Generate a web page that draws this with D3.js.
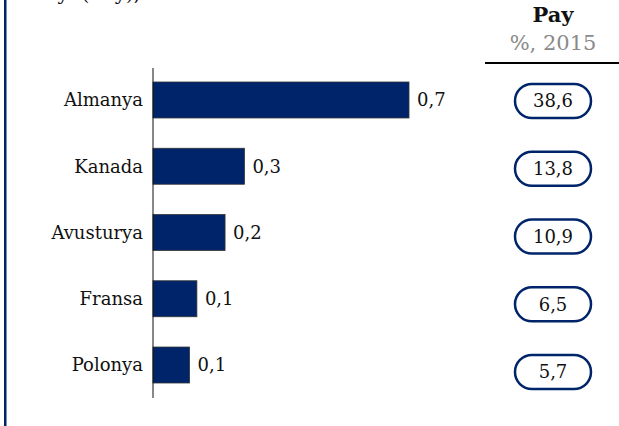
<!DOCTYPE html>
<html><head><meta charset="utf-8">
<script src="https://cdn.jsdelivr.net/npm/d3@7"></script>
<style>body{margin:0;background:#fff}svg{display:block}</style>
</head><body>
<script>
const categories = ["Almanya","Kanada","Avusturya","Fransa","Polonya"];
const values = [0.70, 0.25, 0.197, 0.12, 0.10];
const valueLabels = ["0,7","0,3","0,2","0,1","0,1"];
const shares = [38.6, 13.8, 10.9, 6.5, 5.7];
const headerTitle = "Pay";
const headerSub = "%, 2015";
const topNote = "Payı (% y),";

const W = 619, H = 426;
const navy = "#002469";
const font = "DejaVu Serif";
const svg = d3.select("body").append("svg").attr("width", W).attr("height", H);

svg.append("rect").attr("x",4).attr("y",0).attr("width",2.5).attr("height",H).attr("fill",navy);
svg.append("text").attr("x",33).attr("y",0).attr("font-family",font).attr("font-size",20).attr("fill","#111").text(topNote);

const x0 = 153;
const x = d3.scaleLinear().domain([0, 0.7]).range([x0, 409]);
const y = d3.scaleBand().domain(categories).range([68.75, 396.25]).paddingInner(0.457).paddingOuter(0.2);

svg.selectAll("rect.bar").data(categories).join("rect").attr("class","bar")
  .attr("x", x0).attr("y", d => y(d)).attr("height", y.bandwidth())
  .attr("width", (d,i) => x(values[i]) - x0)
  .attr("fill", navy).attr("stroke","#333").attr("stroke-width",0.8);

svg.append("line").attr("x1",x0).attr("x2",x0).attr("y1",68).attr("y2",398).attr("stroke","#111").attr("stroke-width",1);

svg.selectAll("text.cat").data(categories).join("text").attr("class","cat")
  .attr("x",143).attr("y", d => y(d) + y.bandwidth()/2).attr("dy","0.35em")
  .attr("text-anchor","end").attr("font-family",font).attr("font-size",18).attr("fill","#111").text(d => d);

svg.selectAll("text.val").data(categories).join("text").attr("class","val")
  .attr("x",(d,i) => x(values[i]) + 8).attr("y", d => y(d) + y.bandwidth()/2).attr("dy","0.35em")
  .attr("font-family",font).attr("font-size",18).attr("fill","#111").text((d,i) => valueLabels[i]);

// right column
const cx = 553;
svg.append("text").attr("x",cx).attr("y",22).attr("text-anchor","middle").attr("font-family",font)
  .attr("font-weight","bold").attr("font-size",21).attr("fill","#111").text(headerTitle);
svg.append("text").attr("x",cx).attr("y",50).attr("text-anchor","middle").attr("font-family",font)
  .attr("font-size",21).attr("fill","#8a8a8a").text(headerSub);
svg.append("line").attr("x1",485).attr("x2",619).attr("y1",63).attr("y2",63).attr("stroke","#000").attr("stroke-width",2);

const yp = d3.scalePoint().domain(categories).range([101, 372]);
const fmt = d3.formatLocale({decimal:",", thousands:".", grouping:[3], currency:["",""]}).format(".1f");
const pills = svg.selectAll("g.pill").data(categories).join("g").attr("class","pill")
  .attr("transform", d => `translate(${cx},${yp(d)})`);
pills.append("rect").attr("x",-38).attr("y",-17).attr("width",76).attr("height",34).attr("rx",17)
  .attr("fill","#fff").attr("stroke",navy).attr("stroke-width",2.5);
pills.append("text").attr("text-anchor","middle").attr("dy","0.35em").attr("font-family",font)
  .attr("font-size",18).attr("fill","#111").text((d,i) => fmt(shares[i]));
</script>
</body></html>
